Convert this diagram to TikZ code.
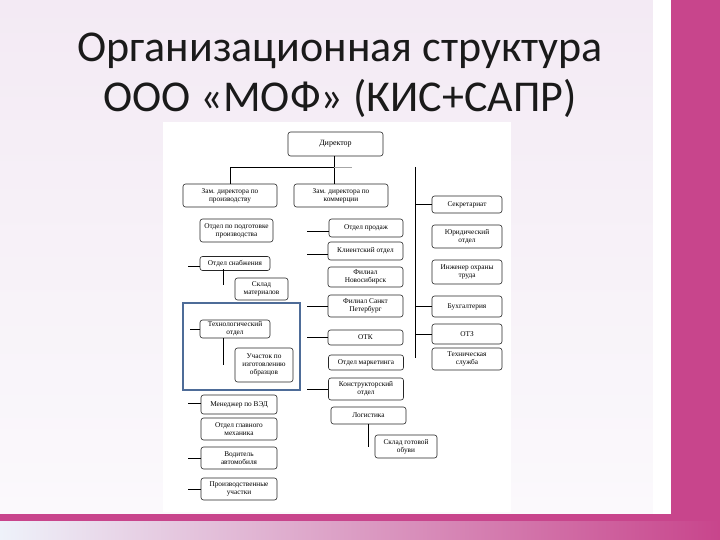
\documentclass[tikz,border=0pt]{standalone}
\usepackage{fontspec}
\setmainfont{Liberation Serif}
\newfontfamily\titlefont{Carlito}
\newfontfamily\orgfont{Liberation Serif}
\definecolor{slidemag}{HTML}{C8458C}
\definecolor{lavtop}{HTML}{F3EAF4}
\definecolor{lavbot}{HTML}{FBF9FC}
\definecolor{botleft}{HTML}{EEF2FA}
\definecolor{frameblue}{HTML}{4E6C98}
\definecolor{titlecol}{HTML}{1A1A1A}
\begin{document}
\begin{tikzpicture}[x=1pt,y=-1pt,
  box/.style={draw=black!85, line width=0.6pt, rounded corners=2.5pt, fill=white,
    align=center, inner sep=0pt, font=\orgfont\fontsize{7.3}{7.9}\selectfont},
  con/.style={draw=black, line width=0.75pt},
  titletext/.style={font=\titlefont\fontsize{44}{48}\selectfont, text=titlecol, anchor=base, inner sep=0pt}]
\useasboundingbox (0,0) rectangle (720,540);
% slide background
\fill[slidemag] (0,0) rectangle (720,540);
\shade[top color=lavtop, bottom color=lavbot] (0,0) rectangle (653,514);
\fill[white] (653,0) rectangle (671,514);
\shade[left color=botleft, right color=slidemag] (0,521) rectangle (720,540);
\fill[slidemag] (0,514) rectangle (671,521);
% title
\node[titletext] (t1) at (340,62) {Организационная структура};
\node[titletext] (t2) at (340,112) {ООО «МОФ» (КИС+САПР)};
% diagram canvas
\fill[white] (163,122) rectangle (511,512);
\draw[frameblue, line width=1.6pt] (183,303) rectangle (300,390);
% nodes
\node[box, minimum width=95, minimum height=24, font=\orgfont\fontsize{8}{9}\selectfont] (dir) at (335.5,144) {Директор};
\node[box, minimum width=94, minimum height=23] (zam1) at (230,195.5) {Зам. директора по\\производству};
\node[box, minimum width=94, minimum height=23] (zam2) at (341,195.5) {Зам. директора по\\коммерции};
% left column
\node[box, minimum width=73, minimum height=23] (podg) at (236.5,230.5) {Отдел по подготовке\\производства};
\node[box, minimum width=70, minimum height=14] (snab) at (235,263.5) {Отдел снабжения};
\node[box, minimum width=53, minimum height=22] (sklm) at (261.5,289) {Склад\\материалов};
\node[box, minimum width=70, minimum height=18] (tech) at (235,329) {Технологический\\отдел};
\node[box, minimum width=58, minimum height=34] (uch) at (264,365) {Участок по\\изготовлению\\образцов};
\node[box, minimum width=76, minimum height=19] (ved) at (239,404.5) {Менеджер по ВЭД};
\node[box, minimum width=76, minimum height=22] (meh) at (239,429) {Отдел главного\\механика};
\node[box, minimum width=76, minimum height=22] (vod) at (239,458) {Водитель\\автомобиля};
\node[box, minimum width=76, minimum height=22] (pu) at (239,489) {Производственные\\участки};
% middle column
\node[box, minimum width=74, minimum height=18] (prod) at (366,228) {Отдел продаж};
\node[box, minimum width=75, minimum height=18] (kli) at (365.5,251) {Клиентский отдел};
\node[box, minimum width=75, minimum height=20] (nsk) at (365.5,277) {Филиал\\Новосибирск};
\node[box, minimum width=75, minimum height=22] (spb) at (365.5,306) {Филиал Санкт\\Петербург};
\node[box, minimum width=75, minimum height=15] (otk) at (365.5,337.5) {ОТК};
\node[box, minimum width=75, minimum height=15] (mark) at (366,362.5) {Отдел маркетинга};
\node[box, minimum width=75, minimum height=22] (konstr) at (366,389) {Конструкторский\\отдел};
\node[box, minimum width=75, minimum height=17] (log) at (368.5,415.5) {Логистика};
\node[box, minimum width=62, minimum height=23] (sgo) at (406,446.5) {Склад готовой\\обуви};
% right column
\node[box, minimum width=70, minimum height=17] (sec) at (467,204.5) {Секретариат};
\node[box, minimum width=70, minimum height=23] (yur) at (467,236.5) {Юридический\\отдел};
\node[box, minimum width=70, minimum height=24] (inzh) at (467,272) {Инженер охраны\\труда};
\node[box, minimum width=70, minimum height=21] (buh) at (467,306.5) {Бухгалтерия};
\node[box, minimum width=70, minimum height=20] (otz) at (467,334) {ОТЗ};
\node[box, minimum width=70, minimum height=22] (tekh) at (467,359) {Техническая\\служба};
% top connectors
\coordinate (hbL) at (230,167);
\coordinate (hbM) at (334,167);
\coordinate (hbR) at (352,167);
\draw[con] ([xshift=-1.5pt]dir.south) -- ([xshift=-1.5pt]dir.south |- zam2.north);
\draw[con] (zam1.north) -- (zam1.north |- hbL) -- (hbM);
\draw[draw=black!35, line width=0.75pt] (hbM) -- (hbR);
% right bus
\coordinate (rbT) at (415,167);
\coordinate (rbB) at (415,358);
\draw[con] (rbT) -- (rbB);
\draw[con] (rbT |- sec.west) -- (sec.west);
\draw[con] (rbT |- buh.west) -- (buh.west);
\draw[con] (rbT |- otz.west) -- (otz.west);
% middle stubs
\draw[con] ([yshift=-3pt]prod.west) -- ++(-22,0);
\draw[con] ([yshift=-3pt]kli.west) -- ++(-21,0);
\draw[con] (spb.west) -- ++(-21,0);
\draw[con] (otk.west) -- ++(-21,0);
\draw[con] (konstr.west) -- ++(-21,0);
% left stubs
\draw[con] ([yshift=-3pt]snab.west) -- ++(-12,0);
\draw[con] (tech.west) -- ++(-10,0);
\draw[con] ([yshift=1.5pt]ved.west) -- ++(-13,0);
\draw[con] (vod.west) -- ++(-13,0);
\draw[con] (pu.west) -- ++(-13,0);
% vertical drops
\draw[con] ([xshift=-12pt,yshift=1.5pt]snab.south) -- ++(0,16);
\draw[con] ([xshift=-12pt]tech.south) -- ++(0,27);
\draw[con] ([xshift=-0.5pt]log.south) -- ++(0,23);
\end{tikzpicture}
\end{document}
